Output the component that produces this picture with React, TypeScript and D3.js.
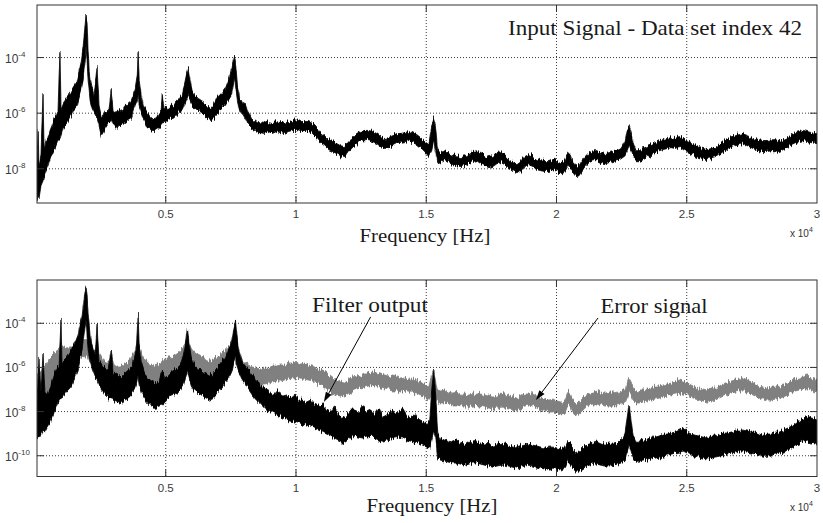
import React from 'react';
import * as d3 from 'd3';

// Each band: [frequency in Hz, lower log10 PSD, upper log10 PSD]
type Band = [number, number, number];

const inputSignal: Band[] = [
  [60,-9.15,-7.71],[100,-8.97,-6.62],[135,-9.08,-7.89],[210,-8.61,-7.53],[290,-8.43,-5.25],[330,-8.25,-7.35],
  [400,-8.07,-6.99],[480,-7.89,-6.91],[560,-7.64,-6.62],[635,-7.53,-6.44],[710,-7.35,-6.19],[790,-7.17,-6.08],
  [865,-6.99,-5.90],[940,-6.91,-3.81],[980,-6.81,-5.83],[1060,-6.55,-5.65],[1135,-6.44,-5.54],[1210,-6.34,-5.43],
  [1290,-6.19,-5.36],[1365,-6.08,-5.25],[1440,-5.90,-5.11],[1520,-5.83,-5.00],[1600,-5.72,-4.82],[1670,-5.47,-4.53],
  [1750,-5.18,-4.17],[1830,-4.82,-3.56],[1905,-4.10,-2.83],[1940,-3.56,-2.47],[1980,-4.10,-2.73],[2020,-4.82,-3.74],
  [2060,-5.18,-4.46],[2095,-5.54,-4.75],[2175,-5.83,-5.11],[2250,-5.97,-5.36],[2365,-6.19,-4.35],[2440,-6.44,-5.72],
  [2520,-6.81,-6.08],[2595,-6.70,-6.08],[2675,-6.55,-5.90],[2750,-6.44,-5.97],[2825,-6.34,-5.83],[2905,-6.26,-5.18],
  [2980,-6.44,-5.90],[3095,-6.55,-5.97],[3210,-6.44,-5.83],[3325,-6.44,-5.90],[3440,-6.34,-5.72],[3560,-6.26,-5.72],
  [3675,-6.19,-5.54],[3750,-5.97,-5.36],[3825,-5.72,-5.11],[3905,-5.54,-4.64],[3940,-5.36,-3.81],[3980,-5.72,-4.82],
  [4060,-5.97,-5.36],[4135,-6.19,-5.72],[4250,-6.44,-5.90],[4365,-6.55,-6.08],[4480,-6.62,-6.19],[4595,-6.62,-6.19],
  [4710,-6.55,-6.08],[4825,-6.44,-5.90],[4865,-6.34,-5.29],[4940,-6.34,-5.83],[5060,-6.26,-5.83],[5175,-6.19,-5.72],
  [5290,-6.19,-5.72],[5405,-6.08,-5.54],[5520,-5.97,-5.47],[5635,-5.90,-5.36],[5710,-5.72,-5.00],[5790,-5.54,-4.64],
  [5865,-5.36,-4.39],[5940,-5.54,-4.82],[6020,-5.72,-5.18],[6135,-5.83,-5.36],[6250,-5.90,-5.47],[6365,-5.97,-5.54],
  [6480,-6.08,-5.61],[6595,-6.19,-5.72],[6710,-6.26,-5.83],[6825,-6.19,-5.72],[6940,-6.08,-5.47],[7055,-5.90,-5.36],
  [7175,-5.83,-5.25],[7290,-5.72,-5.11],[7405,-5.54,-4.82],[7520,-5.36,-4.46],[7595,-5.00,-4.10],[7635,-4.64,-3.95],
  [7675,-5.00,-4.17],[7750,-5.54,-5.00],[7825,-5.83,-5.47],[7905,-5.97,-5.54],[7980,-6.08,-5.72],[8055,-6.19,-5.61],
  [8175,-6.44,-5.97],[8290,-6.55,-6.19],[8405,-6.62,-6.26],[8520,-6.70,-6.34],[8635,-6.70,-6.34],
  [8790,-6.73,-6.37],[8940,-6.66,-6.30],[9095,-6.73,-6.34],[9250,-6.66,-6.30],[9405,-6.70,-6.34],[9555,-6.73,-6.37],
  [9710,-6.66,-6.30],[9865,-6.62,-6.26],[10020,-6.62,-6.23],[10175,-6.66,-6.30],[10325,-6.62,-6.30],[10480,-6.66,-6.30],
  [10635,-6.73,-6.37],[10790,-6.88,-6.52],[10940,-7.06,-6.70],[11095,-7.17,-6.81],[11250,-7.31,-6.95],[11405,-7.38,-7.02],
  [11555,-7.45,-7.09],[11710,-7.53,-7.17],[11865,-7.60,-7.20],[12020,-7.38,-6.99],[12170,-7.24,-6.88],[12325,-7.13,-6.73],
  [12480,-7.02,-6.66],[12635,-6.99,-6.62],[12790,-6.99,-6.62],[12940,-7.02,-6.66],[13095,-7.09,-6.73],[13250,-7.20,-6.84],
  [13405,-7.27,-6.91],[13555,-7.24,-6.88],[13710,-7.17,-6.81],[13865,-7.09,-6.73],[14020,-7.09,-6.73],[14170,-7.06,-6.70],
  [14325,-7.02,-6.66],[14480,-7.06,-6.70],[14635,-7.13,-6.77],[14790,-7.24,-6.88],[14940,-7.38,-7.02],[15095,-7.56,-7.13],
  [15210,-7.35,-6.44],[15290,-6.99,-6.16],[15365,-7.42,-6.55],[15440,-7.82,-7.35],[15555,-7.78,-7.42],[15710,-7.71,-7.35],
  [15865,-7.78,-7.42],[16020,-7.85,-7.49],[16170,-7.89,-7.53],[16325,-7.92,-7.56],[16480,-7.89,-7.53],[16635,-7.82,-7.45],
  [16785,-7.74,-7.38],[16940,-7.71,-7.35],[17095,-7.82,-7.45],[17250,-7.89,-7.53],[17405,-7.96,-7.60],[17555,-7.92,-7.56],
  [17710,-7.82,-7.45],[17865,-7.78,-7.42],[18020,-7.85,-7.49],[18170,-8.00,-7.64],[18325,-8.10,-7.74],[18480,-8.18,-7.82],
  [18635,-8.07,-7.71],[18785,-7.92,-7.56],[18940,-7.85,-7.49],[19095,-7.92,-7.56],[19250,-8.03,-7.67],[19405,-8.07,-7.71],
  [19555,-8.10,-7.74],[19710,-8.10,-7.74],[19865,-8.03,-7.67],[20020,-8.10,-7.74],[20170,-8.18,-7.82],[20325,-8.07,-7.71],
  [20440,-7.85,-7.42],[20520,-7.96,-7.49],[20635,-8.14,-7.78],[20750,-8.29,-7.89],[20865,-8.25,-7.89],[20980,-8.07,-7.71],
  [21095,-7.92,-7.56],[21250,-7.78,-7.42],[21400,-7.71,-7.35],[21555,-7.71,-7.35],[21710,-7.78,-7.42],[21865,-7.82,-7.45],
  [22020,-7.78,-7.42],[22170,-7.74,-7.38],[22325,-7.71,-7.35],[22480,-7.64,-7.27],[22635,-7.53,-6.99],[22710,-7.35,-6.62],
  [22785,-7.17,-6.48],[22865,-7.35,-6.70],[22940,-7.53,-7.06],[23055,-7.71,-7.35],[23170,-7.71,-7.35],[23325,-7.64,-7.27],
  [23480,-7.56,-7.20],[23635,-7.49,-7.13],[23785,-7.42,-7.06],[23940,-7.35,-6.99],[24095,-7.31,-6.95],[24250,-7.27,-6.91],
  [24400,-7.24,-6.88],[24555,-7.27,-6.91],[24710,-7.20,-6.84],[24865,-7.31,-6.91],[25020,-7.38,-7.02],[25170,-7.45,-7.09],
  [25325,-7.53,-7.17],[25480,-7.60,-7.24],[25635,-7.64,-7.27],[25785,-7.67,-7.31],[25940,-7.64,-7.27],[26095,-7.60,-7.24],
  [26250,-7.49,-7.13],[26400,-7.38,-7.02],[26555,-7.31,-6.95],[26710,-7.24,-6.88],[26865,-7.17,-6.81],[27020,-7.13,-6.77],
  [27170,-7.09,-6.73],[27325,-7.17,-6.81],[27480,-7.24,-6.88],[27635,-7.31,-6.95],[27785,-7.35,-6.99],[27940,-7.38,-7.02],
  [28095,-7.38,-7.02],[28250,-7.35,-6.99],[28400,-7.35,-6.99],[28555,-7.38,-7.02],[28710,-7.31,-6.95],[28865,-7.24,-6.88],
  [29020,-7.13,-6.77],[29170,-7.06,-6.70],[29325,-7.02,-6.66],[29480,-6.99,-6.62],[29635,-7.02,-6.66],[29785,-7.06,-6.70],
  [29940,-7.09,-6.73],[30000,-7.09,-6.73],
];

const errorSignal: Band[] = [
  [60,-7.93,-6.21],[170,-7.70,-6.12],[290,-7.48,-6.03],[400,-7.39,-5.89],[520,-7.25,-5.57],[635,-7.02,-5.44],
  [750,-6.80,-5.30],[865,-6.57,-5.21],[980,-6.34,-5.07],[1095,-6.03,-5.07],[1210,-5.89,-5.12],[1325,-5.85,-5.07],
  [1440,-5.80,-5.07],[1560,-5.75,-5.03],[1675,-5.66,-4.98],[1790,-5.57,-4.89],[1905,-5.44,-4.76],[1980,-5.44,-4.67],
  [2060,-5.66,-4.98],[2135,-5.89,-5.12],[2250,-6.03,-5.21],[2365,-6.21,-5.21],[2480,-6.48,-5.44],[2595,-6.66,-5.66],
  [2710,-6.80,-5.75],[2825,-6.80,-5.75],[2905,-6.71,-5.48],[3020,-6.80,-5.89],[3135,-6.89,-5.98],[3250,-6.89,-5.98],
  [3365,-6.80,-5.89],[3480,-6.71,-5.80],[3595,-6.57,-5.66],[3710,-6.39,-5.44],[3825,-6.12,-5.21],[3940,-5.89,-4.89],
  [4020,-6.12,-5.21],[4095,-6.34,-5.44],[4210,-6.57,-5.66],[4325,-6.71,-5.80],[4440,-6.80,-5.89],[4560,-6.84,-5.94],
  [4675,-6.80,-5.89],[4790,-6.71,-5.80],[4905,-6.66,-5.66],[5020,-6.57,-5.57],[5135,-6.48,-5.57],[5250,-6.43,-5.53],
  [5365,-6.39,-5.44],[5480,-6.30,-5.35],[5595,-6.12,-5.21],[5710,-5.89,-4.98],[5830,-5.66,-4.76],[5905,-5.89,-4.98],
  [6020,-6.12,-5.21],[6135,-6.25,-5.35],[6250,-6.34,-5.44],[6365,-6.43,-5.53],[6480,-6.48,-5.57],[6595,-6.57,-5.66],
  [6710,-6.62,-5.71],[6825,-6.57,-5.66],[6940,-6.48,-5.53],[7060,-6.34,-5.44],[7175,-6.21,-5.30],[7290,-6.12,-5.21],
  [7405,-6.03,-5.07],[7520,-5.89,-4.89],[7635,-5.75,-4.76],[7710,-5.89,-4.98],[7790,-6.12,-5.30],[7905,-6.34,-5.57],
  [8020,-6.48,-5.75],[8175,-6.57,-5.89],[8325,-6.66,-5.98],[8480,-6.71,-6.03],[8635,-6.75,-6.07],[8790,-6.75,-6.03],
  [8940,-6.71,-6.03],[9095,-6.66,-5.94],[9250,-6.62,-5.94],[9405,-6.62,-5.89],[9560,-6.57,-5.89],[9710,-6.53,-5.80],
  [9865,-6.48,-5.80],[10020,-6.48,-5.75],[10175,-6.53,-5.85],[10325,-6.53,-5.80],[10480,-6.57,-5.89],[10635,-6.62,-5.94],
  [10790,-6.71,-6.03],[10940,-6.80,-6.12],[11095,-6.89,-6.21],[11250,-7.02,-6.34],[11405,-7.16,-6.48],[11560,-7.25,-6.57],
  [11710,-7.30,-6.66],[11865,-7.34,-6.71],[12020,-7.21,-6.57],[12175,-7.07,-6.43],[12325,-6.98,-6.39],[12480,-6.93,-6.34],
  [12635,-6.89,-6.25],[12790,-6.84,-6.25],[12940,-6.84,-6.21],[13095,-6.84,-6.25],[13250,-6.89,-6.30],[13405,-6.93,-6.34],
  [13560,-6.98,-6.39],[13710,-7.02,-6.39],[13865,-7.02,-6.43],[14020,-7.07,-6.48],[14175,-7.07,-6.43],[14325,-7.12,-6.53],
  [14480,-7.12,-6.53],[14635,-7.16,-6.57],[14790,-7.25,-6.66],[14940,-7.39,-6.80],[15095,-7.48,-6.89],[15210,-7.25,-6.34],
  [15290,-7.12,-6.12],[15365,-7.34,-6.66],[15440,-7.57,-7.02],[15555,-7.61,-7.07],[15710,-7.61,-7.02],[15865,-7.66,-7.12],
  [16020,-7.70,-7.16],[16170,-7.70,-7.12],[16325,-7.75,-7.21],[16480,-7.75,-7.21],[16635,-7.80,-7.25],[16785,-7.80,-7.21],
  [16940,-7.75,-7.21],[17095,-7.75,-7.16],[17250,-7.80,-7.25],[17405,-7.84,-7.30],[17555,-7.89,-7.34],[17710,-7.84,-7.30],
  [17865,-7.80,-7.21],[18020,-7.80,-7.25],[18170,-7.84,-7.30],[18325,-7.89,-7.34],[18480,-7.93,-7.39],[18635,-7.84,-7.30],
  [18785,-7.75,-7.16],[18940,-7.70,-7.16],[19095,-7.75,-7.21],[19250,-7.84,-7.30],[19405,-7.93,-7.39],[19555,-7.98,-7.43],
  [19710,-8.02,-7.48],[19865,-8.02,-7.43],[20020,-8.07,-7.52],[20170,-8.11,-7.57],[20325,-8.07,-7.52],[20440,-7.70,-7.12],
  [20520,-7.75,-7.16],[20635,-8.02,-7.48],[20750,-8.16,-7.61],[20865,-8.11,-7.57],[20980,-7.98,-7.43],[21095,-7.84,-7.30],
  [21250,-7.70,-7.16],[21400,-7.66,-7.12],[21555,-7.66,-7.07],[21710,-7.70,-7.16],[21865,-7.75,-7.21],[22020,-7.75,-7.16],
  [22170,-7.70,-7.16],[22325,-7.70,-7.12],[22480,-7.66,-7.12],[22635,-7.61,-7.02],[22710,-7.39,-6.71],[22785,-7.12,-6.48],
  [22865,-7.30,-6.66],[22940,-7.48,-6.93],[23055,-7.61,-7.07],[23170,-7.61,-7.02],[23325,-7.57,-7.02],[23480,-7.52,-6.98],
  [23635,-7.48,-6.93],[23785,-7.43,-6.84],[23940,-7.39,-6.84],[24095,-7.34,-6.80],[24250,-7.30,-6.75],[24400,-7.25,-6.71],
  [24555,-7.21,-6.66],[24710,-7.16,-6.57],[24865,-7.21,-6.62],[25020,-7.25,-6.71],[25170,-7.34,-6.80],[25325,-7.43,-6.89],
  [25480,-7.48,-6.93],[25635,-7.52,-6.98],[25785,-7.57,-7.02],[25940,-7.52,-6.93],[26095,-7.48,-6.93],[26250,-7.39,-6.84],
  [26400,-7.30,-6.75],[26555,-7.25,-6.66],[26710,-7.16,-6.62],[26865,-7.12,-6.57],[27020,-7.07,-6.53],[27170,-7.07,-6.48],
  [27325,-7.12,-6.57],[27480,-7.21,-6.66],[27635,-7.30,-6.75],[27785,-7.39,-6.84],[27940,-7.43,-6.89],[28095,-7.48,-6.93],
  [28250,-7.48,-6.89],[28400,-7.43,-6.89],[28555,-7.39,-6.84],[28710,-7.34,-6.80],[28865,-7.25,-6.71],[29020,-7.16,-6.62],
  [29170,-7.07,-6.53],[29325,-7.02,-6.48],[29480,-6.98,-6.43],[29635,-6.98,-6.39],[29785,-7.02,-6.48],[29940,-7.07,-6.53],
  [30000,-7.07,-6.53],
];

const filterOutput: Band[] = [
  [60,-9.29,-7.48],[135,-9.20,-5.66],[210,-9.07,-7.25],[290,-8.84,-5.35],[365,-8.93,-7.25],[440,-8.75,-7.25],
  [520,-8.61,-7.02],[595,-8.39,-6.80],[675,-8.16,-6.48],[750,-7.93,-6.21],[825,-7.70,-6.03],[905,-7.48,-5.89],
  [980,-7.39,-3.85],[1020,-7.39,-5.89],[1095,-7.25,-5.66],[1175,-7.12,-5.57],[1250,-7.02,-5.44],[1325,-6.93,-5.30],
  [1405,-6.80,-5.12],[1480,-6.57,-4.98],[1560,-6.34,-4.76],[1635,-6.12,-4.53],[1710,-5.66,-4.08],[1790,-5.21,-3.62],
  [1865,-4.53,-2.94],[1940,-3.85,-2.35],[1980,-4.53,-2.72],[2020,-5.21,-3.62],[2095,-5.66,-4.53],[2175,-6.12,-4.98],
  [2290,-6.48,-5.44],[2365,-6.57,-4.08],[2440,-6.80,-5.66],[2560,-7.02,-5.89],[2675,-7.25,-6.03],[2790,-7.39,-6.12],
  [2905,-7.34,-5.21],[2980,-7.48,-6.21],[3095,-7.57,-6.34],[3210,-7.61,-6.43],[3325,-7.57,-6.34],[3440,-7.48,-6.25],
  [3560,-7.39,-6.12],[3675,-7.25,-6.03],[3790,-7.02,-5.66],[3865,-6.80,-5.21],[3940,-6.34,-3.62],[3980,-6.80,-4.98],
  [4060,-7.12,-5.75],[4175,-7.39,-6.21],[4290,-7.57,-6.48],[4405,-7.70,-6.57],[4520,-7.80,-6.66],[4635,-7.80,-6.71],
  [4750,-7.75,-6.66],[4865,-7.70,-6.12],[4980,-7.57,-6.48],[5095,-7.39,-6.34],[5210,-7.25,-6.21],[5325,-7.21,-6.12],
  [5440,-7.12,-6.03],[5560,-7.02,-5.89],[5675,-6.80,-5.44],[5750,-6.48,-4.98],[5830,-6.12,-4.21],[5905,-6.48,-4.98],
  [5980,-6.80,-5.57],[6095,-7.02,-5.89],[6210,-7.12,-6.03],[6325,-7.21,-6.12],[6440,-7.30,-6.21],[6560,-7.39,-6.30],
  [6675,-7.48,-6.39],[6790,-7.43,-6.34],[6905,-7.30,-6.12],[7020,-7.12,-5.94],[7135,-6.93,-5.75],[7250,-6.75,-5.57],
  [7365,-6.57,-5.30],[7480,-6.34,-4.98],[7560,-6.12,-4.67],[7635,-5.66,-4.08],[7675,-5.44,-3.85],[7710,-5.75,-4.30],
  [7790,-6.12,-5.12],[7905,-6.48,-5.66],[8020,-6.71,-5.89],[8135,-6.93,-6.03],[8250,-7.12,-6.21],[8405,-7.39,-6.48],
  [8560,-7.57,-6.66],[8710,-7.75,-6.84],[8865,-7.93,-7.02],[9020,-8.02,-7.12],[9175,-8.11,-7.21],[9325,-8.20,-7.02],
  [9480,-8.29,-7.30],[9635,-8.34,-7.25],[9790,-8.39,-7.39],[9940,-8.43,-7.21],[10095,-8.48,-7.48],[10250,-8.57,-7.48],
  [10405,-8.61,-7.57],[10560,-8.66,-7.48],[10710,-8.75,-7.66],[10865,-8.84,-7.75],[11020,-8.93,-7.61],[11175,-9.02,-7.93],
  [11325,-9.11,-8.02],[11480,-9.20,-7.84],[11635,-9.29,-8.16],[11790,-9.47,-8.29],[11940,-9.34,-8.20],[12095,-9.20,-7.93],
  [12250,-9.11,-7.93],[12405,-9.16,-8.02],[12560,-9.20,-7.75],[12710,-9.16,-8.02],[12865,-9.11,-7.93],[13020,-9.20,-8.11],
  [13175,-9.29,-7.84],[13325,-9.34,-8.25],[13480,-9.29,-8.16],[13635,-9.25,-7.93],[13790,-9.20,-8.07],[13940,-9.16,-8.02],
  [14095,-9.20,-7.89],[14250,-9.29,-8.20],[14405,-9.34,-8.29],[14560,-9.38,-8.11],[14710,-9.43,-8.39],[14865,-9.52,-8.48],
  [15020,-9.61,-8.57],[15135,-9.65,-8.39],[15210,-9.29,-7.02],[15290,-8.84,-6.03],[15365,-9.29,-7.25],[15440,-10.11,-8.93],
  [15555,-10.20,-9.29],[15710,-10.24,-9.20],[15865,-10.29,-9.34],[16020,-10.33,-9.38],[16170,-10.33,-9.29],[16325,-10.38,-9.43],
  [16480,-10.43,-9.47],[16635,-10.38,-9.34],[16785,-10.33,-9.38],[16940,-10.33,-9.34],[17095,-10.38,-9.43],[17250,-10.43,-9.47],
  [17405,-10.47,-9.38],[17555,-10.52,-9.56],[17710,-10.47,-9.52],[17865,-10.43,-9.43],[18020,-10.43,-9.47],[18170,-10.47,-9.52],
  [18325,-10.52,-9.56],[18480,-10.56,-9.61],[18635,-10.52,-9.52],[18785,-10.47,-9.47],[18940,-10.43,-9.43],[19095,-10.47,-9.52],
  [19250,-10.52,-9.56],[19405,-10.56,-9.61],[19555,-10.61,-9.65],[19710,-10.61,-9.61],[19865,-10.56,-9.61],[20020,-10.61,-9.65],
  [20170,-10.65,-9.70],[20325,-10.56,-9.61],[20440,-10.29,-9.29],[20520,-10.38,-9.38],[20635,-10.61,-9.70],[20750,-10.70,-9.84],
  [20865,-10.70,-9.84],[20980,-10.61,-9.70],[21095,-10.52,-9.56],[21250,-10.43,-9.47],[21400,-10.38,-9.43],[21555,-10.38,-9.38],
  [21710,-10.43,-9.47],[21865,-10.47,-9.52],[22020,-10.47,-9.47],[22170,-10.43,-9.47],[22325,-10.38,-9.43],[22480,-10.33,-9.34],
  [22635,-10.20,-8.97],[22710,-9.84,-8.29],[22785,-9.52,-7.70],[22865,-9.84,-8.39],[22940,-10.11,-9.07],[23055,-10.29,-9.34],
  [23170,-10.29,-9.34],[23325,-10.24,-9.29],[23480,-10.20,-9.25],[23635,-10.15,-9.16],[23785,-10.11,-9.16],[23940,-10.06,-9.11],
  [24095,-10.02,-9.02],[24250,-9.97,-9.02],[24400,-9.93,-8.97],[24555,-9.88,-8.93],[24710,-9.84,-8.84],[24865,-9.79,-8.75],
  [25020,-9.88,-8.93],[25170,-9.97,-9.02],[25325,-10.02,-9.07],[25480,-10.06,-9.11],[25635,-10.11,-9.16],[25785,-10.15,-9.20],
  [25940,-10.11,-9.11],[26095,-10.06,-9.11],[26250,-10.02,-9.07],[26400,-9.97,-8.97],[26555,-9.93,-8.97],[26710,-9.88,-8.93],
  [26865,-9.84,-8.84],[27020,-9.79,-8.84],[27170,-9.79,-8.84],[27325,-9.84,-8.88],[27480,-9.88,-8.93],[27635,-9.93,-8.93],
  [27785,-9.97,-9.02],[27940,-10.02,-9.07],[28095,-10.02,-9.02],[28250,-9.97,-9.02],[28400,-9.93,-8.93],[28555,-9.88,-8.93],
  [28710,-9.84,-8.84],[28865,-9.75,-8.75],[29020,-9.65,-8.66],[29170,-9.56,-8.52],[29325,-9.47,-8.39],[29480,-9.38,-8.29],
  [29635,-9.34,-8.20],[29785,-9.38,-8.29],[29940,-9.43,-8.34],[30000,-9.47,-8.39],
];

const xTickValues = [5000, 10000, 15000, 20000, 25000, 30000];
const xTickLabels = ['0.5', '1', '1.5', '2', '2.5', '3'];
const topDecades = [-4, -6, -8];
const bottomDecades = [-4, -6, -8, -10];

// Annotation anchors in data space: [frequency Hz, log10 PSD]
const filterLabel = { text: 'Filter output', at: [12840, -3.49], tail: [12865, -3.71], tip: [11070, -7.57], width: 116 };
const errorLabel = { text: 'Error signal', at: [23745, -3.55], tail: [21595, -3.76], tip: [19210, -7.48], width: 107 };

const W = 823;
const H = 523;
const LEFT = 37;
const RIGHT = 817;
const SERIF = '"Liberation Serif", "Times New Roman", serif';
const SANS = '"Liberation Sans", Arial, sans-serif';

const x = d3.scaleLinear().domain([58, 30000]).range([LEFT, RIGHT]);

type Series = { data: Band[]; color: string };
type Note = { text: string; at: number[]; tail: number[]; tip: number[]; width: number };

function Arrow({ x1, y1, x2, y2 }: { x1: number; y1: number; x2: number; y2: number }) {
  const ang = Math.atan2(y2 - y1, x2 - x1);
  const len = 10;
  const half = 3.2;
  const bx = x2 - len * Math.cos(ang);
  const by = y2 - len * Math.sin(ang);
  const px = -Math.sin(ang) * half;
  const py = Math.cos(ang) * half;
  return (
    <g>
      <line x1={x1} y1={y1} x2={bx} y2={by} stroke="#000" strokeWidth={1} />
      <polygon points={`${x2},${y2} ${bx + px},${by + py} ${bx - px},${by - py}`} fill="#000" />
    </g>
  );
}

function Panel({ id, y0, y1, logMin, logMax, decades, series, title, notes, labelX, labelDy }: {
  id: string; y0: number; y1: number; logMin: number; logMax: number; decades: number[];
  series: Series[]; title?: string; notes?: Note[]; labelX: number; labelDy: number;
}) {
  const y = d3.scaleLog().domain([10 ** logMin, 10 ** logMax]).range([y1, y0]);
  const area = d3.area<Band>()
    .x(d => x(d[0]))
    .y0(d => y(10 ** d[1]))
    .y1(d => y(10 ** d[2]));
  const tickLen = 7;
  const gridColor = '#3a3a3a';
  return (
    <g>
      <defs>
        <clipPath id={`${id}-clip`}>
          <rect x={LEFT} y={y0} width={RIGHT - LEFT} height={y1 - y0} />
        </clipPath>
        {/* ragged edges of the noisy spectral traces */}
        <filter id={`${id}-rough`} filterUnits="userSpaceOnUse" x={LEFT - 5} y={y0 - 5} width={RIGHT - LEFT + 10} height={y1 - y0 + 10}>
          <feTurbulence type="fractalNoise" baseFrequency="0.7 0.06" numOctaves={2} seed={4} result="noise" />
          <feColorMatrix in="noise" type="matrix" values="0 0 0 0 0.5  0 1 0 0 0  0 0 1 0 0  0 0 0 0 1" result="dmap" />
          <feDisplacementMap in="SourceGraphic" in2="dmap" scale={9} xChannelSelector="R" yChannelSelector="G" />
        </filter>
      </defs>
      <rect x={LEFT} y={y0} width={RIGHT - LEFT} height={y1 - y0} fill="#fff" />
      {/* dotted grid */}
      {xTickValues.slice(0, -1).map(v => (
        <line key={`gx${v}`} x1={x(v)} x2={x(v)} y1={y0} y2={y1} stroke={gridColor} strokeWidth={1} strokeDasharray="1 2" />
      ))}
      {decades.map(dd => (
        <line key={`gy${dd}`} x1={LEFT} x2={RIGHT} y1={y(10 ** dd)} y2={y(10 ** dd)} stroke={gridColor} strokeWidth={1} strokeDasharray="1 2" />
      ))}
      {/* spectra */}
      <g clipPath={`url(#${id}-clip)`}>
        <g filter={`url(#${id}-rough)`}>
          {series.map((s, i) => (
            <path key={i} d={area(s.data) || ''} fill={s.color} stroke={s.color} strokeWidth={0.8} strokeLinejoin="round" />
          ))}
        </g>
      </g>
      {/* ticks */}
      {xTickValues.slice(0, -1).map(v => (
        <g key={`tx${v}`}>
          <line x1={x(v)} x2={x(v)} y1={y1} y2={y1 - tickLen} stroke="#333" />
          <line x1={x(v)} x2={x(v)} y1={y0} y2={y0 + tickLen} stroke="#333" />
        </g>
      ))}
      {decades.map(dd => (
        <g key={`ty${dd}`}>
          <line x1={LEFT} x2={LEFT + tickLen} y1={y(10 ** dd)} y2={y(10 ** dd)} stroke="#333" />
          <line x1={RIGHT} x2={RIGHT - tickLen} y1={y(10 ** dd)} y2={y(10 ** dd)} stroke="#333" />
        </g>
      ))}
      <rect x={LEFT} y={y0} width={RIGHT - LEFT} height={y1 - y0} fill="none" stroke="#333" strokeWidth={1} />
      {/* tick labels */}
      {xTickValues.map((v, i) => (
        <text key={`lx${v}`} x={x(v)} y={y1 + 15} fontSize={11.5} fontFamily={SANS} fill="#3a3a3a" textAnchor="middle">
          {xTickLabels[i]}
        </text>
      ))}
      {decades.map(dd => (
        <text key={`ly${dd}`} x={5} y={y(10 ** dd) + 5} fontSize={12} fontFamily={SANS} fill="#3a3a3a">
          10<tspan dy={-6} fontSize={8}>{dd}</tspan>
        </text>
      ))}
      <text x={labelX} y={y1 + labelDy} fontSize={18} fontFamily={SERIF} fill="#1a1a1a" textAnchor="middle"
        textLength={131} lengthAdjust="spacingAndGlyphs">Frequency [Hz]</text>
      <text x={790} y={y1 + 34} fontSize={10} fontFamily={SANS} fill="#333">
        x 10<tspan dy={-5} fontSize={7}>4</tspan>
      </text>
      {title && (
        <text x={802} y={y0 + 30} fontSize={21} fontFamily={SERIF} fill="#1a1a1a" textAnchor="end"
          textLength={294} lengthAdjust="spacingAndGlyphs">{title}</text>
      )}
      {notes && notes.map(n => (
        <g key={n.text}>
          <text x={x(n.at[0])} y={y(10 ** n.at[1])} fontSize={21} fontFamily={SERIF} fill="#1a1a1a" textAnchor="middle"
            textLength={n.width} lengthAdjust="spacingAndGlyphs">{n.text}</text>
          <Arrow x1={x(n.tail[0])} y1={y(10 ** n.tail[1])} x2={x(n.tip[0])} y2={y(10 ** n.tip[1])} />
        </g>
      ))}
    </g>
  );
}

export default function App() {
  return (
    <svg width={W} height={H} viewBox={`0 0 ${W} ${H}`} style={{ position: 'absolute', left: 0, top: 0, background: '#fff' }}>
      <rect width={W} height={H} fill="#fff" />
      <Panel
        id="top" y0={5} y1={203} logMin={-9.23} logMax={-2.11} decades={topDecades}
        series={[{ data: inputSignal, color: '#000' }]}
        title="Input Signal - Data set index 42"
        labelX={425} labelDy={38.5}
      />
      <Panel
        id="bottom" y0={280} y1={476.5} logMin={-10.94} logMax={-2.04} decades={bottomDecades}
        series={[{ data: errorSignal, color: '#808080' }, { data: filterOutput, color: '#000' }]}
        notes={[filterLabel, errorLabel]}
        labelX={432} labelDy={35}
      />
    </svg>
  );
}
